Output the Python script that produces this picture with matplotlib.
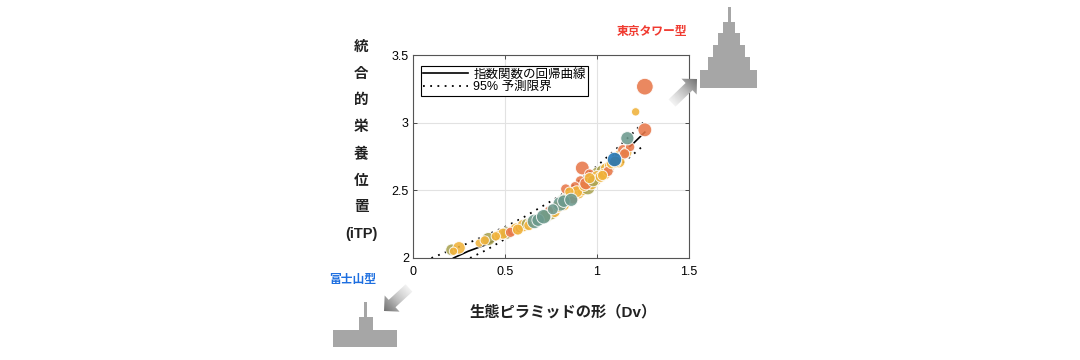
import numpy as np
import matplotlib
matplotlib.use("Agg")
import matplotlib.pyplot as plt
from matplotlib.patches import Polygon, Rectangle

# ---------------------------------------------------------------------------
# data
# ---------------------------------------------------------------------------
fit_x = [0.22, 0.30, 0.40, 0.50, 0.60, 0.70, 0.80, 0.90, 1.00, 1.10, 1.20, 1.26]
fit_y = [2.00, 2.05, 2.10, 2.17, 2.24, 2.33, 2.42, 2.52, 2.62, 2.73, 2.85, 2.93]
upper_x = [0.10, 0.20, 0.30, 0.40, 0.50, 0.60, 0.70, 0.80, 0.90, 1.00, 1.10, 1.20, 1.25]
upper_y = [2.00, 2.055, 2.11, 2.17, 2.23, 2.30, 2.38, 2.46, 2.57, 2.68, 2.80, 2.93, 3.00]
lower_x = [0.31, 0.40, 0.50, 0.60, 0.70, 0.80, 0.90, 1.00, 1.10, 1.20, 1.26]
lower_y = [2.00, 2.06, 2.14, 2.21, 2.29, 2.37, 2.46, 2.56, 2.66, 2.77, 2.84]

pt_x = [0.21, 0.25, 0.22, 0.36, 0.41, 0.39, 0.47, 0.51, 0.49, 0.54, 0.56, 0.58,
        0.60, 0.62, 0.64, 0.66, 0.68, 0.71, 0.73, 0.75, 0.77, 0.78, 0.80, 0.82,
        0.84, 0.86, 0.83, 0.85, 0.88, 0.90, 0.92, 0.95, 0.97, 0.99, 1.01, 1.03,
        0.92, 0.96, 1.05, 1.07, 1.09, 1.11, 1.13, 1.14, 1.16, 1.165, 1.26, 1.21,
        1.26, 0.91, 0.88, 0.70, 0.74, 1.00, 1.12, 1.18,
        0.45, 0.53, 0.57, 0.63, 0.67, 0.72, 0.76, 0.79, 0.81, 0.87, 0.89, 0.93,
        0.94, 0.98, 1.02, 1.04, 1.06, 1.08, 1.10, 1.15, 0.85, 0.96, 1.03, 0.82]
pt_y = [2.06, 2.075, 2.05, 2.11, 2.14, 2.13, 2.17, 2.185, 2.18, 2.20, 2.215, 2.22,
        2.24, 2.25, 2.26, 2.27, 2.28, 2.305, 2.31, 2.33, 2.34, 2.37, 2.40, 2.42,
        2.45, 2.43, 2.51, 2.46, 2.47, 2.48, 2.50, 2.52, 2.55, 2.58, 2.62, 2.64,
        2.665, 2.62, 2.66, 2.68, 2.73, 2.74, 2.76, 2.80, 2.78, 2.885, 2.947, 3.08,
        3.266, 2.57, 2.53, 2.29, 2.35, 2.60, 2.71, 2.82,
        2.16, 2.19, 2.21, 2.24, 2.28, 2.31, 2.36, 2.38, 2.43, 2.44, 2.49, 2.53,
        2.55, 2.57, 2.60, 2.62, 2.64, 2.70, 2.71, 2.77, 2.49, 2.59, 2.61, 2.39]
pt_size = [40, 45, 20, 20, 50, 25, 30, 45, 35, 30, 40, 25,
           45, 40, 35, 60, 45, 60, 40, 50, 35, 30, 60, 45,
           40, 50, 30, 25, 30, 40, 35, 60, 45, 50, 70, 50,
           55, 30, 40, 35, 60, 40, 45, 30, 35, 50, 55, 20,
           80, 30, 25, 30, 25, 45, 40, 25,
           25, 30, 35, 30, 40, 45, 35, 40, 30, 35, 40, 30,
           45, 40, 35, 40, 30, 35, 40, 30, 25, 35, 30, 35]
pt_group = ["olive", "gold", "gold", "gold", "olive", "gold", "gold", "olive", "gold", "orange", "gold", "orange",
            "gold", "olive", "gold", "teal", "teal", "teal", "olive", "olive", "gold", "orange", "teal", "teal",
            "olive", "teal", "orange", "gold", "gold", "gold", "gold", "olive", "gold", "gold", "olive", "olive",
            "orange", "orange", "gold", "gold", "blue", "gold", "gold", "orange", "gold", "teal", "orange", "gold",
            "orange", "orange", "orange", "gold", "orange", "gold", "gold", "orange",
            "gold", "orange", "gold", "gold", "olive", "olive", "teal", "gold", "olive", "orange", "gold", "gold",
            "orange", "olive", "gold", "gold", "orange", "gold", "gold", "orange", "gold", "gold", "gold", "gold"]

PAL = {"orange": "#E8784A", "gold": "#F0B23A", "olive": "#A9A352",
       "teal": "#6C9A8E", "blue": "#1E74B8"}
ON_TOP = ["teal", "blue"]

JP = ["Liberation Sans", "Noto Sans CJK JP"]

fig = plt.figure(figsize=(10.8, 3.6), dpi=100)
W, H = 1080, 360
L, R, T, B = 413, 689, 55, 258
ax = fig.add_axes([L / W, 1 - B / H, (R - L) / W, (B - T) / H])

ax.plot(fit_x, fit_y, color="black", lw=1.2, zorder=2, label="指数関数の回帰曲線")
ax.plot(upper_x, upper_y, color="black", lw=1.3, ls=(0, (1, 3)), zorder=2,
        label="95% 予測限界")
ax.plot(lower_x, lower_y, color="black", lw=1.3, ls=(0, (1, 3)), zorder=2)

# mixed colours in data order, then teal and blue drawn over them
layers = [[i for i in range(len(pt_x)) if pt_group[i] not in ON_TOP]]
layers += [[i for i in range(len(pt_x)) if pt_group[i] == g] for g in ON_TOP]
for k, idx in enumerate(layers):
    ax.scatter([pt_x[i] for i in idx], [pt_y[i] for i in idx],
               s=[pt_size[i] * 1.8 for i in idx], c=[PAL[pt_group[i]] for i in idx],
               edgecolors="white", linewidths=0.7, alpha=0.88, zorder=3 + k * 0.1)

ax.set_xlim(0, 1.5); ax.set_ylim(2, 3.5)
ax.set_xticks([0, 0.5, 1, 1.5]); ax.set_xticklabels(["0", "0.5", "1", "1.5"])
ax.set_yticks([2, 2.5, 3, 3.5]); ax.set_yticklabels(["2", "2.5", "3", "3.5"])
ax.grid(True, color="#E2E2E2", lw=0.8, zorder=0)
ax.set_axisbelow(True)
ax.tick_params(direction="in", length=3, width=0.6, color="#333333",
               top=True, right=True, labelsize=9)
ax.tick_params(axis="x", pad=6)
ax.tick_params(axis="y", pad=3)
for lab in ax.get_xticklabels() + ax.get_yticklabels():
    lab.set_family("Liberation Sans")
for sp in ax.spines.values():
    sp.set_color("#555555"); sp.set_linewidth(0.8)

leg = ax.legend(loc="upper left", bbox_to_anchor=(0.028, 0.946), borderaxespad=0,
                fancybox=False, edgecolor="black", framealpha=1,
                prop={"family": JP, "size": 9}, handlelength=3.6,
                labelspacing=0.05, borderpad=0.2, handletextpad=0.4)
leg.get_frame().set_linewidth(0.8)

# axis labels (y label stacked vertically, one char per line)
ylab = ["統", "合", "的", "栄", "養", "位", "置", "(iTP)"]
for i, ch in enumerate(ylab):
    fig.text(361 / W, 1 - (47 + i * 26.7) / H, ch, ha="center", va="center",
             family=JP, fontsize=10.5, fontweight="bold", color="#222222")
fig.text(563 / W, 1 - 312 / H, "生態ピラミッドの形（Dv）", ha="center", va="center",
         family=JP, fontsize=11, fontweight="bold", color="#222222")

fig.text(652 / W, 1 - 32 / H, "東京タワー型", ha="center", va="center",
         family=JP, fontsize=8.5, fontweight="bold", color="#F03A30")
fig.text(353 / W, 1 - 280 / H, "富士山型", ha="center", va="center",
         family=JP, fontsize=8.5, fontweight="bold", color="#1E6FE0")

# overlay in pixel coordinates for pyramid icons and arrows
ov = fig.add_axes([0, 0, 1, 1], facecolor="none")
ov.set_xlim(0, W); ov.set_ylim(H, 0); ov.axis("off")

GRAY = "#A6A6A6"
tower = [(727.5, 6.5, 3.5, 15.5), (723, 21.5, 12, 12), (718, 33, 22, 12),
         (713, 45, 32, 12.5), (708, 57, 42, 13), (700, 70, 57, 17.5)]
fuji = [(364.2, 301.5, 2.6, 16), (359.3, 317, 13.4, 13), (332.7, 330, 64, 17.3)]
for x0, y0, w, h in tower + fuji:
    ov.add_patch(Rectangle((x0, y0), w, h, facecolor=GRAY, edgecolor="none"))


def grad_arrow(tail, tip, shaft=10, head_len=11):
    tail = np.array(tail, float); tip = np.array(tip, float)
    d = tip - tail; n = np.linalg.norm(d); u = d / n; p = np.array([-u[1], u[0]])
    base = tip - u * head_len
    pts = [tail + p * shaft / 2, base + p * shaft / 2, base + p * head_len, tip,
           base - p * head_len, base - p * shaft / 2, tail - p * shaft / 2]
    poly = Polygon(pts, closed=True, facecolor="none", edgecolor="none")
    ov.add_patch(poly)
    xs = [q[0] for q in pts]; ys = [q[1] for q in pts]
    x0, x1, y0, y1 = min(xs) - 1, max(xs) + 1, min(ys) - 1, max(ys) + 1
    gx, gy = np.meshgrid(np.linspace(x0, x1, 80), np.linspace(y0, y1, 80))
    t = ((gx - tail[0]) * u[0] + (gy - tail[1]) * u[1]) / n
    t = np.clip(t, 0, 1)
    im = ov.imshow(t, extent=(x0, x1, y1, y0), cmap="Greys", vmin=-0.2, vmax=1.7,
                   interpolation="bilinear", zorder=5)
    im.set_clip_path(poly)


grad_arrow((672, 103), (697, 79))
grad_arrow((409, 288), (384, 311))
ov.set_xlim(0, W); ov.set_ylim(H, 0)

fig.savefig("out.png", dpi=100)
